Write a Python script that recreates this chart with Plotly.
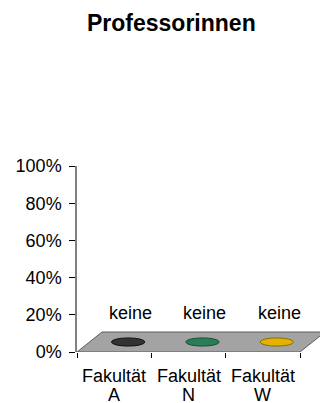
import plotly.graph_objects as go

# Data: share of female professors per faculty (all zero -> "keine")
categories = ["Fakultät<br>A", "Fakultät<br>N", "Fakultät<br>W"]
cat_lines = [("Fakultät", "A"), ("Fakultät", "N"), ("Fakultät", "W")]
values = [0, 0, 0]
labels = ["keine", "keine", "keine"]
colors = ["#333333", "#2b7d55", "#e2b300"]
edge_colors = ["#111111", "#1a4f35", "#8a6d00"]
y_ticks = [0, 20, 40, 60, 80, 100]

W, H = 320, 403
FONT = "Liberation Sans, Arial, sans-serif"

# plot box in pixels
left_px, front_right_px = 77, 300
bottom_px, top_px = 352, 166
px_per_cat = (front_right_px - left_px) / len(categories)
px_per_pct = (bottom_px - top_px) / 100.0

# 3D depth of the floor in pixels, converted to data units
depth_x = 25 / px_per_cat
depth_y = 20 / px_per_pct

x0 = -0.5
x1 = x0 + (W - left_px) / px_per_cat  # widen so the floor's back edge is visible

fig = go.Figure()
fig.add_trace(go.Scatter(x=categories, y=values, mode="markers",
                         marker=dict(opacity=0), hoverinfo="skip", showlegend=False))

shapes = []
# floor parallelogram
n = len(categories)
fx0, fx1 = -0.5, n - 0.5
shapes.append(dict(
    type="path", xref="x", yref="y",
    path=f"M {fx0},0 L {fx1},0 L {fx1 + depth_x},{depth_y} L {fx0 + depth_x},{depth_y} Z",
    fillcolor="#a3a3a3", line=dict(color="#5a5a5a", width=1), layer="below"))

# flat cylinder tops for each value
ew = 0.225  # half width in category units
eh = 2.2    # half height in percent units
annotations = []
for i, (v, c, ec, lab) in enumerate(zip(values, colors, edge_colors, labels)):
    cx = i + depth_x / 2 + 0.02
    cy = v + depth_y / 2
    shapes.append(dict(type="circle", xref="x", yref="y",
                       x0=cx - ew, x1=cx + ew, y0=cy - eh, y1=cy + eh,
                       fillcolor=c, line=dict(color=ec, width=1)))
    annotations.append(dict(x=cx + 0.03, y=cy + 15.5, xref="x", yref="y", text=lab,
                            yanchor="middle", showarrow=False,
                            font=dict(size=18, color="#000000", family=FONT)))

# category labels, two lines each, below the floor's front edge
for i, (l1, l2) in enumerate(cat_lines):
    annotations.append(dict(x=i, y=1 - 376 / H, xref="x", yref="paper", text=l1,
                            yanchor="middle", showarrow=False,
                            font=dict(size=18, color="#000000", family=FONT)))
    annotations.append(dict(x=i, y=1 - 394.5 / H, xref="x", yref="paper", text=l2,
                            yanchor="middle", showarrow=False,
                            font=dict(size=18, color="#000000", family=FONT)))

annotations.append(dict(x=171 / W, y=1 - 23 / H, xref="paper", yref="paper",
                        text="<b>Professorinnen</b>", showarrow=False,
                        xanchor="center", yanchor="middle",
                        font=dict(size=23, color="#000000", family=FONT)))

fig.update_layout(
    width=W, height=H,
    margin=dict(l=0, r=0, t=0, b=0),
    paper_bgcolor="white", plot_bgcolor="rgba(0,0,0,0)",
    shapes=shapes, annotations=annotations,
    font=dict(family=FONT, size=18, color="#000000"),
    xaxis=dict(
        domain=[left_px / W, 1], range=[x0, x1], type="category",
        tickson="boundaries", ticks="outside", ticklen=5, tickcolor="#000000",
        showticklabels=False, automargin=False,
        showline=False, showgrid=False, zeroline=False,
    ),
    yaxis=dict(
        domain=[(H - bottom_px) / H, (H - top_px) / H], range=[0, 100],
        tickvals=y_ticks, ticktext=[f"{t}%" for t in y_ticks],
        ticks="outside", ticklen=6, tickcolor="#000000",
        ticklabelstandoff=4, automargin=False,
        showline=True, linecolor="#808080", linewidth=1.5,
        showgrid=False, zeroline=False,
        tickfont=dict(size=18, family=FONT, color="#000000"),
    ),
)

fig.write_html("out.html")
